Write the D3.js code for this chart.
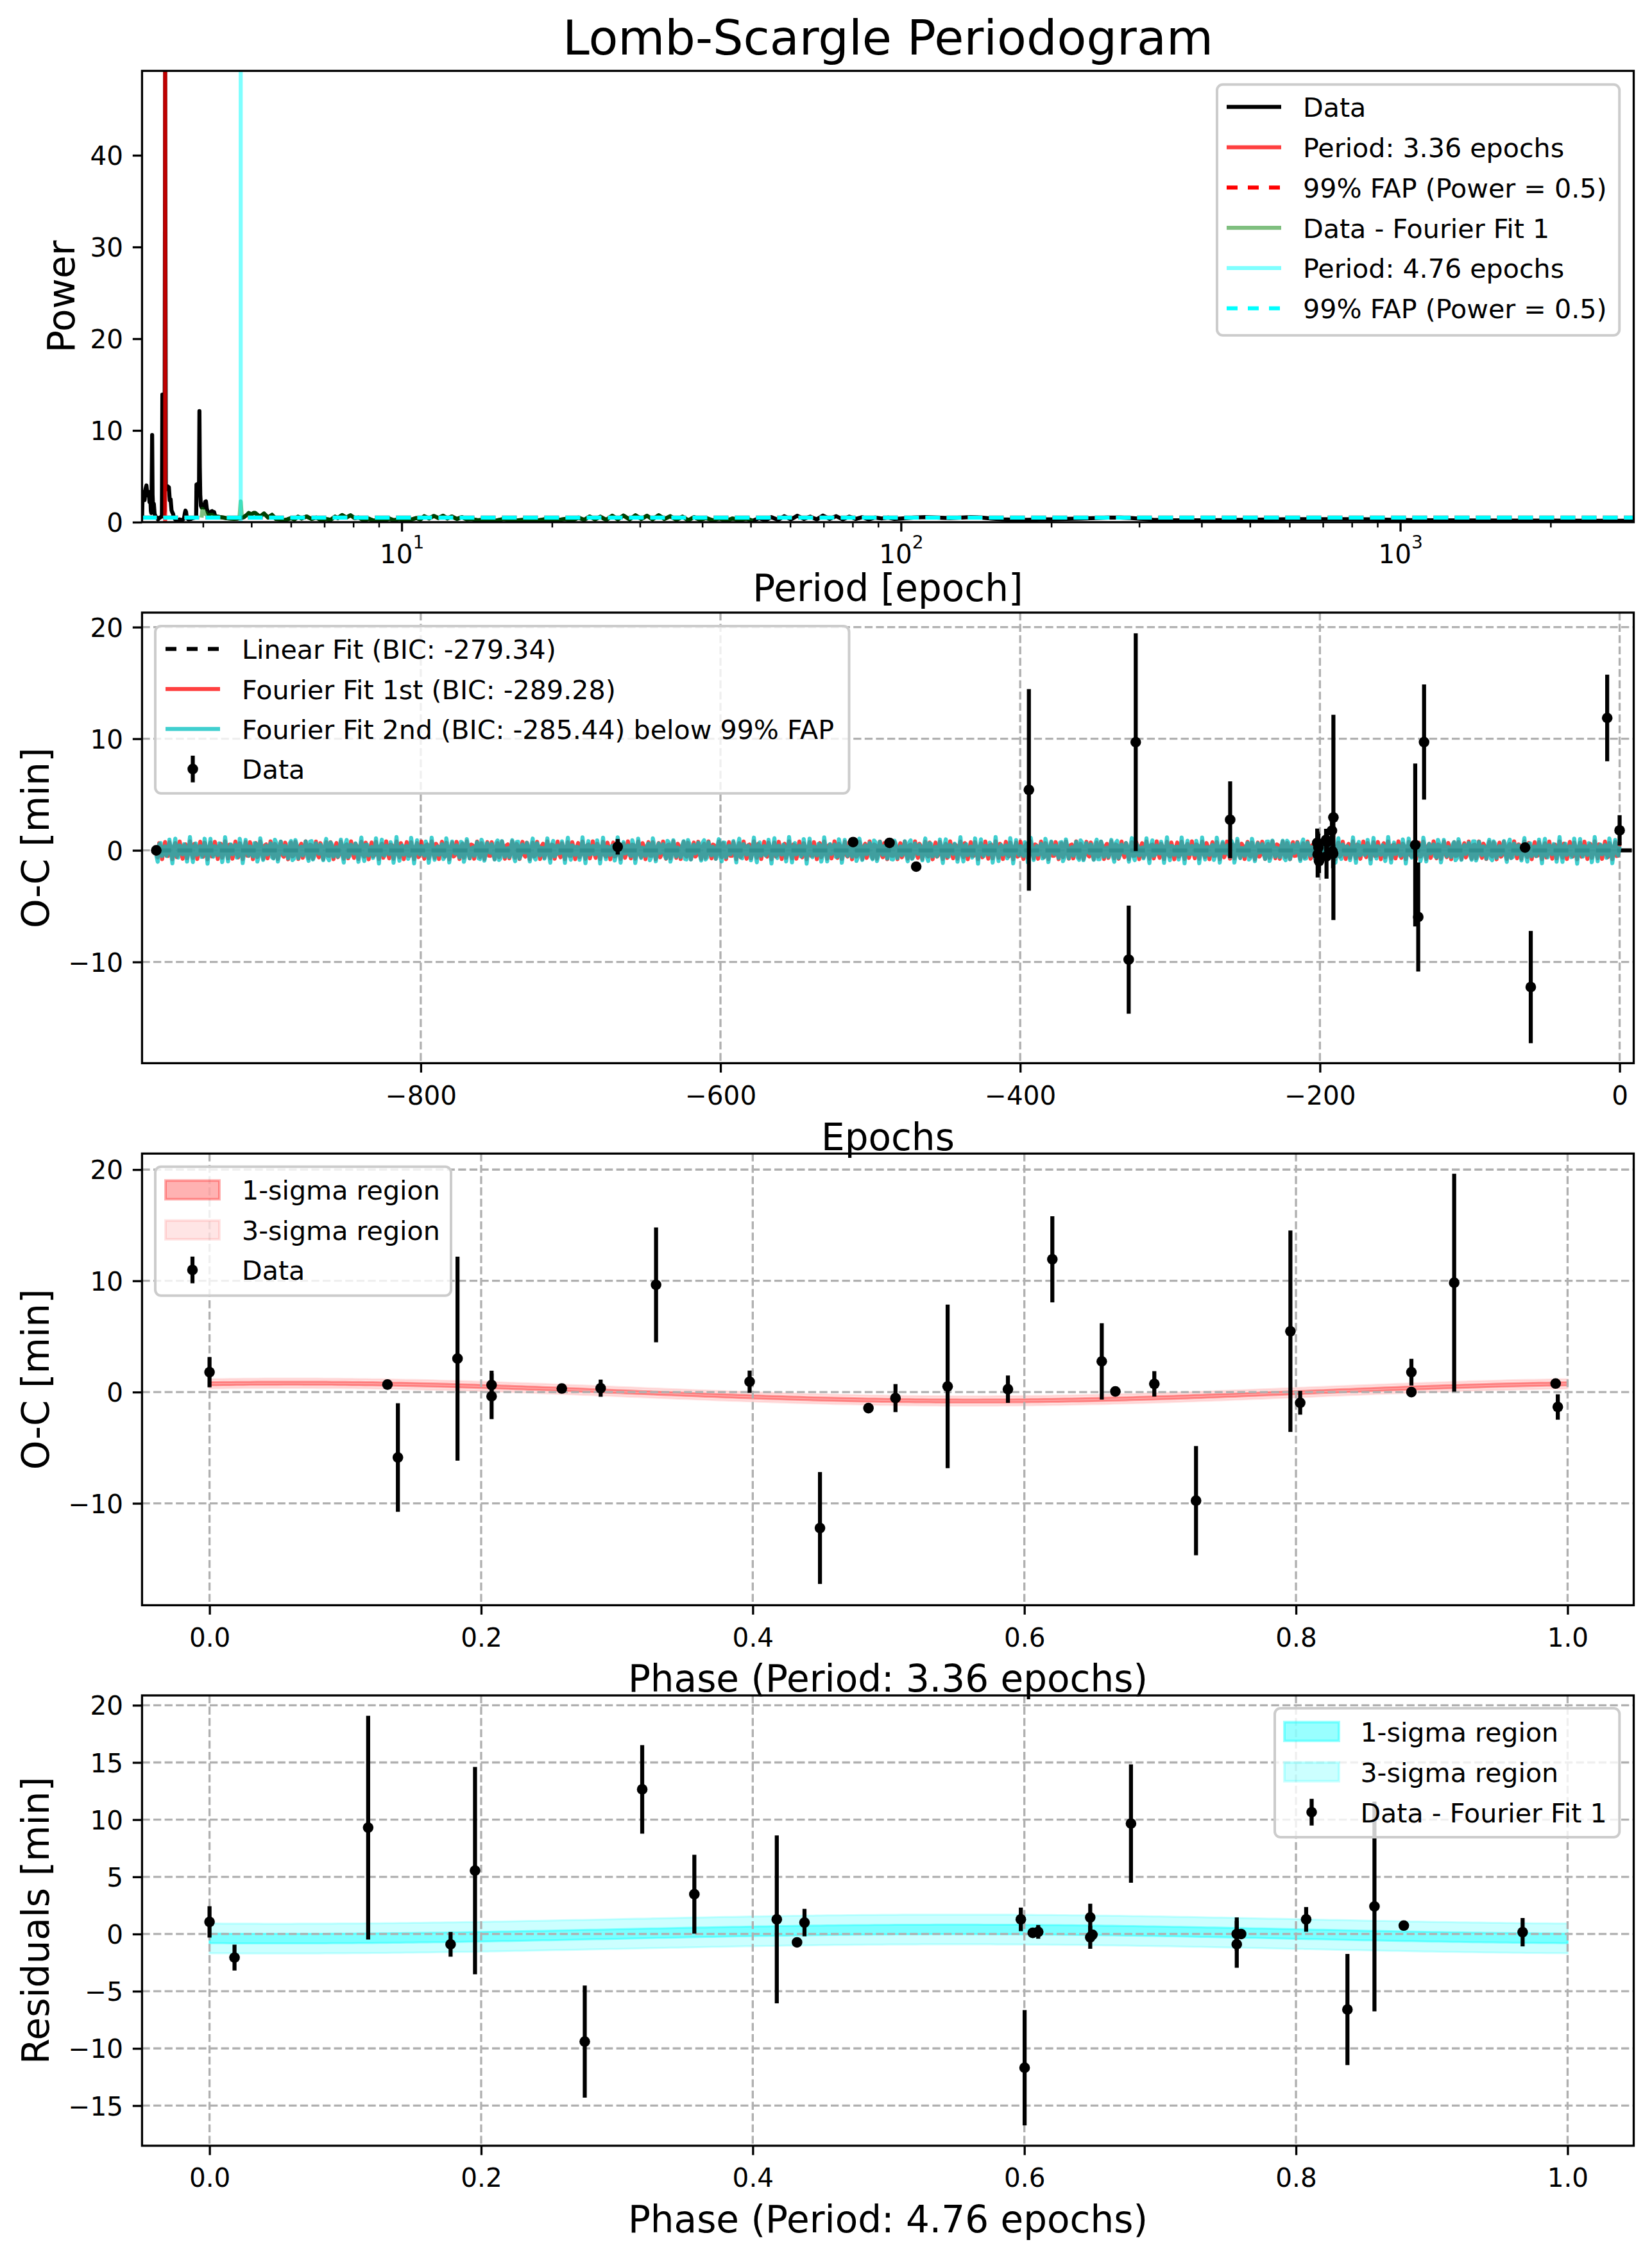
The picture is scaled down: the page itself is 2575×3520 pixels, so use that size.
<!DOCTYPE html>
<html>
<head>
<meta charset="utf-8">
<script src="https://cdn.jsdelivr.net/npm/d3@7"></script>
<style>
  html, body { margin: 0; padding: 0; background: #fff; }
  svg { display: block; }
</style>
</head>
<body>
<svg id="chart" width="2575" height="3520"></svg>
<script>
// ======================= DATA =======================
// Panel 1 – Lomb-Scargle periodogram, [period (epochs), power]
const periodogramLow = [
  [3.02,0.3],[3.028,3.0],[3.036,3.1],[3.045,3.3],[3.055,2.4],[3.068,3.6],[3.082,4.0],[3.095,3.0],
  [3.105,2.9],[3.114,3.3],[3.126,2.2],[3.136,3.1],[3.146,1.2],[3.152,1.0],[3.158,4.5],[3.164,9.5],
  [3.17,3.0],[3.178,1.6],[3.189,2.0],[3.2,0.9],[3.215,0.6],[3.237,0.5],[3.25,0.3],[3.261,0.4],
  [3.28,0.5],[3.3,0.6],[3.31,0.7],[3.317,13.9],[3.324,0.8],[3.335,0.6],[3.35,1.2],[3.36,49.2],
  [3.37,4.0],[3.385,3.6],[3.4,3.9],[3.418,3.8],[3.432,2.4],[3.445,2.5],[3.46,1.3],[3.47,1.1],
  [3.485,0.9],[3.496,0.5],[3.52,0.3],[3.55,0.15],[3.59,0.3],[3.63,0.2],[3.665,0.4],[3.68,1.0],
  [3.69,1.26],[3.7,1.1],[3.711,0.5],[3.74,0.3],[3.78,0.35],[3.82,0.45],[3.86,0.5],[3.876,0.6],
  [3.882,4.1],[3.9,4.15],[3.915,3.3],[3.928,4.5],[3.935,12.1],[3.942,6.0],[3.95,3.0],[3.962,1.8],
  [3.975,1.6],[3.99,1.9],[4.0,1.8],[4.02,1.6],[4.04,2.2],[4.055,2.27],[4.07,1.5],[4.09,1.1],
  [4.11,0.8],[4.13,0.9],[4.15,1.15],[4.17,1.2],[4.19,0.95],[4.21,1.1],[4.23,0.7],[4.27,0.6],
  [4.33,0.55],[4.4,0.5],[4.47,0.42],[4.54,0.4],[4.62,0.35],[4.7,0.4],[4.76,0.45],[4.83,0.55],
  [4.9,0.8],[4.94,1.0],[5.0,0.85],[5.05,1.0],[5.09,1.0]
];
// residual periodogram (Data - Fourier Fit 1), low-period part
const residPeriodogramLow = [
  [3.975,0.5],[3.99,1.45],[4.0,1.3],[4.02,1.2],[4.04,0.9],[4.055,1.0],[4.07,0.8],[4.09,0.75],
  [4.11,0.6],[4.13,0.8],[4.15,0.7],[4.17,0.8],[4.19,0.6],[4.21,0.65],[4.23,0.5],[4.27,0.6],
  [4.33,0.55],[4.4,0.5],[4.47,0.42],[4.54,0.4],[4.62,0.35],[4.7,0.4],[4.735,0.6],[4.75,1.6],
  [4.76,2.27],[4.77,1.6],[4.785,0.6],[4.83,0.55],[4.9,0.8],[4.94,1.0],[5.0,0.85],[5.05,1.0],[5.09,1.0]
];
// part shared by both periodograms (they coincide here)
const periodogramMid = [
  [5.2,0.6],[5.3,0.95],[5.4,0.5],[5.5,0.8],[5.6,0.35],[5.7,0.3],[5.8,0.2],[5.9,0.3],[6.0,0.45],
  [6.1,0.3],[6.2,0.6],[6.3,0.4],[6.45,0.62],[6.6,0.35],[6.75,0.5],[6.9,0.2],[7.05,0.35],[7.2,0.25],
  [7.35,0.6],[7.45,0.45],[7.6,0.78],[7.75,0.5],[7.9,0.75],[8.05,0.45],[8.2,0.5],[8.4,0.2],[8.6,0.38],
  [8.8,0.15],[9.0,0.3],[9.2,0.15],[9.45,0.4],[9.65,0.2],[9.9,0.35],[10.1,0.15],[10.4,0.25],[10.7,0.45],
  [10.9,0.3],[11.1,0.65],[11.35,0.4],[11.6,0.68],[11.85,0.45],[12.1,0.7],[12.35,0.4],[12.6,0.62],
  [12.9,0.35],[13.2,0.55],[13.5,0.3],[13.8,0.35],[14.2,0.2],[14.8,0.3],[15.4,0.15],[16.0,0.35],
  [16.8,0.15],[17.6,0.28],[18.4,0.12],[19.3,0.3],[20.2,0.15],[21.2,0.35],[22.0,0.2],[22.6,0.5],
  [23.2,0.25],[23.8,0.62],[24.4,0.3],[25.0,0.6],[25.7,0.25],[26.4,0.7],[27.1,0.3],[27.8,0.72],
  [28.6,0.3],[29.4,0.75],[30.2,0.35],[31.0,0.7],[31.8,0.3],[32.7,0.75],[33.6,0.35],[34.5,0.65],
  [35.5,0.25],[36.5,0.6],[37.5,0.2],[38.5,0.55],[39.6,0.25],[40.7,0.45],[42.0,0.2],[43.3,0.42],
  [44.6,0.15],[46.0,0.4],[47.5,0.2],[49.0,0.4],[50.5,0.15]
];
// data periodogram, long-period part
const periodogramHigh = [
  [52,0.45],[53.5,0.2],[55,0.55],[56.7,0.25],[58.4,0.65],[60.2,0.3],[62,0.7],[63.9,0.35],[65.8,0.6],
  [67.8,0.3],[69.8,0.72],[72,0.35],[74.2,0.65],[76.5,0.3],[78.8,0.6],[81.2,0.35],[83.6,0.55],
  [86.2,0.3],[88.8,0.5],[91.5,0.4],[94.3,0.5],[97,0.35],[100,0.4],[106,0.5],[112,0.55],[118,0.5],
  [125,0.45],[132,0.5],[138,0.55],[145,0.5],[152,0.4],[160,0.3],[170,0.25],[180,0.25],[190,0.3],
  [200,0.3],[215,0.35],[230,0.4],[245,0.45],[260,0.5],[275,0.5],[290,0.45],[305,0.35],[320,0.25],
  [345,0.2],[370,0.2],[400,0.2],[440,0.22],[490,0.25],[545,0.28],[600,0.32],[660,0.33],[730,0.33],
  [800,0.32],[880,0.3],[960,0.25],[1050,0.22],[1200,0.2],[1400,0.18],[1700,0.17],[2000,0.16],
  [2400,0.15],[2935,0.14]
];
const peakPeriods = [3.36, 4.76];
const fapPowers = [0.5, 0.5];

// Panel 2 – O-C diagram
const epochs = [-976.5,-668.6,-511.5,-487.2,-469.4,-394.2,-327.6,-322.9,-259.9,
  -201.8,-201.5,-201.0,-200.6,-195.9,-195.6,-195.2,-192.0,-191.6,-191.2,-191.0,
  -136.4,-134.4,-130.5,-63.1,-59.3,-8.3,0.0];
const ocValues = [0.0,0.32,0.74,0.67,-1.46,5.42,-9.79,9.69,2.74,
  0.67,-0.38,0.26,-0.96,0.93,-0.54,0.74,1.76,-0.1,-0.3,2.95,
  0.48,-5.97,9.7,0.25,-12.25,11.86,1.79];
const ocErrors = [0.3,0.7,0.3,0.3,0.3,9.03,4.84,9.76,3.44,
  1.28,2.05,1.23,1.07,1.0,2.0,1.14,1.2,0.5,1.3,9.2,
  7.3,4.88,5.16,0.3,5.03,3.88,1.36];
const linearFitCoef = [0.0, 0.0];          // intercept, slope
const fourierFit1 = [0.8, 3.36, 0.06];     // amplitude [min], period [epoch], phase offset
const fourierFit2 = [0.4, 4.76, 0.55];     // second term added to fit 1
const fitEpochRange = [-976.5, 0.0];
const linearEpochRange = [-976.5, 9.4];

// Panel 3 – folded on 3.36 epochs
const phase1 = [0.0,0.131,0.1387,0.1826,0.2077,0.2077,0.2594,0.288,0.3288,0.3977,0.4495,0.4852,
  0.5051,0.5435,0.5879,0.6206,0.657,0.667,0.6957,0.7264,0.7959,0.8031,0.885,0.885,0.9165,0.9912,0.9928];
const phase1OC = [1.79,0.68,-5.88,3.01,0.64,-0.38,0.32,0.35,9.64,0.93,-12.22,-1.44,
  -0.54,0.51,0.26,11.94,2.76,0.06,0.74,-9.76,5.47,-0.96,1.79,0.0,9.83,0.77,-1.34];
const phase1Err = [1.36,0.3,4.88,9.17,1.28,2.05,0.3,0.77,5.16,1.0,5.03,0.3,
  1.26,7.35,1.23,3.87,3.43,0.3,1.14,4.91,9.05,1.07,1.2,0.3,9.8,0.3,1.14];
const sigma1Half = [0.15, 0.42];            // 1σ, 3σ half-widths [min]

// Panel 4 – residuals folded on 4.76 epochs
const phase2 = [0.0,0.0184,0.1168,0.1775,0.1955,0.2763,0.3186,0.357,0.4177,0.4326,0.4381,0.5974,
  0.6002,0.6062,0.6102,0.6485,0.6485,0.6501,0.6785,0.7564,0.7564,0.7596,0.8075,0.8379,0.8578,0.8794,0.9669];
const phase2Resid = [1.06,-2.06,9.3,-0.9,5.54,-9.4,12.65,3.48,1.28,-0.73,1.0,1.28,
  -11.69,0.1,0.19,1.45,-0.29,-0.06,9.66,0.0,-0.9,0.0,1.28,-6.6,2.41,0.74,0.16];
const phase2Err = [1.37,1.13,9.78,1.08,9.06,4.9,3.87,3.45,7.34,0.3,1.2,1.03,
  5.04,0.3,0.6,1.2,1.0,0.3,5.17,1.45,2.05,0.3,1.08,4.86,9.17,0.3,1.24];
const sigma2Half = [0.42, 1.3];

// Tick values
const p1YTicks = [0,10,20,30,40];
const p1XMajor = [10,100,1000];
const p1XMinor = [4,5,6,7,8,9,20,30,40,50,60,70,80,90,200,300,400,500,600,700,800,900,2000];
const p2XTicks = [-800,-600,-400,-200,0];
const p2YTicks = [-10,0,10,20];
const phaseTicks = [0,0.2,0.4,0.6,0.8,1.0];
const p3YTicks = [-10,0,10,20];
const p4YTicks = [-15,-10,-5,0,5,10,15,20];

// ======================= DRAWING =======================
const FONT = '"DejaVu Sans", "Liberation Sans", sans-serif';
const svg = d3.select("#chart");
svg.append("rect").attr("width",2575).attr("height",3520).attr("fill","#fff");
const defs = svg.append("defs");

const L = 221.4, R = 2546.5;
const panels = [
  {top:110.5, bottom:814},
  {top:955, bottom:1657.4},
  {top:1798.3, bottom:2502.4},
  {top:2643, bottom:3345}
];
const LW = 6.25, SPINE = 3.33, TICK = 14.6;

function makePanel(i){
  const p = panels[i];
  defs.append("clipPath").attr("id","clip"+i).append("rect")
    .attr("x",L).attr("y",p.top).attr("width",R-L).attr("height",p.bottom-p.top);
  const g = svg.append("g");
  const plot = g.append("g").attr("clip-path",`url(#clip${i})`);
  return {g, plot, p};
}
function grid(plot, x, y, xt, yt, p){
  const gg = plot.append("g");
  xt.forEach(v => gg.append("line").attr("x1",x(v)).attr("x2",x(v)).attr("y1",p.top).attr("y2",p.bottom)
    .attr("stroke","#b0b0b0").attr("stroke-width",3.33).attr("stroke-dasharray","12.3,5.3"));
  yt.forEach(v => gg.append("line").attr("y1",y(v)).attr("y2",y(v)).attr("x1",L).attr("x2",R)
    .attr("stroke","#b0b0b0").attr("stroke-width",3.33).attr("stroke-dasharray","12.3,5.3"));
}
function styleAxis(a, w){
  a.attr("font-size",null).attr("font-family",null);
  a.select(".domain").remove();
  a.selectAll(".tick line").attr("stroke","#000").attr("stroke-width",w || SPINE);
  a.selectAll(".tick text").attr("fill","#000").style("font-size","40.5px").style("font-family",FONT);
}
function axes(g, x, y, p, xt, xf, yt, yf){
  const ax = g.append("g").attr("transform",`translate(0,${p.bottom})`)
    .call(d3.axisBottom(x).tickValues(xt).tickFormat(xf).tickSize(TICK).tickPadding(21));
  styleAxis(ax);
  const ay = g.append("g").attr("transform",`translate(${L},0)`)
    .call(d3.axisLeft(y).tickValues(yt).tickFormat(yf).tickSize(TICK).tickPadding(14.8));
  styleAxis(ay);
  ay.selectAll(".tick text").attr("dy","0.36em");
  return {ax, ay};
}
function spines(g, p){
  g.append("rect").attr("x",L).attr("y",p.top).attr("width",R-L).attr("height",p.bottom-p.top)
    .attr("fill","none").attr("stroke","#000").attr("stroke-width",SPINE);
}
function labels(g, p, xlabel, xBase, ylabel, yBase){
  g.append("text").attr("x",(L+R)/2).attr("y",xBase).attr("text-anchor","middle")
    .style("font-family",FONT).style("font-size","58px").attr("fill","#000").text(xlabel);
  g.append("text").attr("transform",`translate(${yBase},${(p.top+p.bottom)/2}) rotate(-90)`)
    .attr("text-anchor","middle").style("font-family",FONT).style("font-size","58px").attr("fill","#000").text(ylabel);
}
function errorbars(plot, xs, ys, es, x, y){
  const gg = plot.append("g");
  xs.forEach((xv,i) => {
    gg.append("line").attr("x1",x(xv)).attr("x2",x(xv)).attr("y1",y(ys[i]-es[i])).attr("y2",y(ys[i]+es[i]))
      .attr("stroke","#000").attr("stroke-width",LW);
  });
  xs.forEach((xv,i) => {
    gg.append("circle").attr("cx",x(xv)).attr("cy",y(ys[i])).attr("r",8.3).attr("fill","#000");
  });
}
function legend(g, box, rowY0, rowDy, hx0, hx1, tx, items){
  const lg = g.append("g");
  lg.append("rect").attr("x",box[0]).attr("y",box[1]).attr("width",box[2]-box[0]).attr("height",box[3]-box[1])
    .attr("rx",9).attr("ry",9).attr("fill","#fff").attr("fill-opacity",0.8).attr("stroke","#cccccc").attr("stroke-width",4);
  items.forEach((it,k) => {
    const cy = rowY0 + k*rowDy;
    if (it.type === "line") {
      const ln = lg.append("line").attr("x1",hx0).attr("x2",hx1).attr("y1",cy).attr("y2",cy)
        .attr("stroke",it.color).attr("stroke-opacity",it.opacity ?? 1).attr("stroke-width",LW);
      if (it.dash) ln.attr("stroke-dasharray",it.dash);
    } else if (it.type === "patch") {
      lg.append("rect").attr("x",hx0).attr("y",cy-14.6).attr("width",hx1-hx0).attr("height",29.2)
        .attr("fill",it.color).attr("fill-opacity",it.opacity).attr("stroke",it.color).attr("stroke-opacity",it.opacity).attr("stroke-width",4);
    } else if (it.type === "err") {
      const cx = (hx0+hx1)/2;
      lg.append("line").attr("x1",cx).attr("x2",cx).attr("y1",cy-20.8).attr("y2",cy+20.8).attr("stroke","#000").attr("stroke-width",LW);
      lg.append("circle").attr("cx",cx).attr("cy",cy).attr("r",8.3).attr("fill","#000");
    }
    lg.append("text").attr("x",tx).attr("y",cy+15.5).style("font-family",FONT).style("font-size","41.2px")
      .attr("fill","#000").text(it.label);
  });
}

// ---------- Title ----------
svg.append("text").attr("x",(L+R)/2).attr("y",85).attr("text-anchor","middle")
  .style("font-family",FONT).style("font-size","75px").attr("fill","#000").text("Lomb-Scargle Periodogram");

// ---------- Panel 1 ----------
{
  const {g, plot, p} = makePanel(0);
  const x = d3.scaleLog().domain([3.02, 2935]).range([L, R]);
  const y = d3.scaleLinear().domain([0, 49.2]).range([p.bottom, p.top]);
  const line = d3.line().x(d => x(d[0])).y(d => y(d[1]));
  const dataPg = periodogramLow.concat(periodogramMid, periodogramHigh);
  const residPg = residPeriodogramLow.concat(periodogramMid);
  plot.append("path").attr("d",line(dataPg)).attr("fill","none").attr("stroke","#000")
    .attr("stroke-width",LW).attr("stroke-linejoin","round");
  plot.append("line").attr("x1",x(peakPeriods[0])).attr("x2",x(peakPeriods[0])).attr("y1",p.top).attr("y2",p.bottom)
    .attr("stroke","#ff0000").attr("stroke-opacity",0.75).attr("stroke-width",LW);
  plot.append("line").attr("x1",L).attr("x2",R).attr("y1",y(fapPowers[0])).attr("y2",y(fapPowers[0]))
    .attr("stroke","#ff0000").attr("stroke-width",LW).attr("stroke-dasharray","23,10");
  plot.append("path").attr("d",line(residPg)).attr("fill","none").attr("stroke","#008000").attr("stroke-opacity",0.5)
    .attr("stroke-width",LW).attr("stroke-linejoin","round");
  plot.append("line").attr("x1",x(peakPeriods[1])).attr("x2",x(peakPeriods[1])).attr("y1",p.top).attr("y2",p.bottom)
    .attr("stroke","#00ffff").attr("stroke-opacity",0.5).attr("stroke-width",LW);
  plot.append("line").attr("x1",L).attr("x2",R).attr("y1",y(fapPowers[1])).attr("y2",y(fapPowers[1]))
    .attr("stroke","#00ffff").attr("stroke-width",LW).attr("stroke-dasharray","23,10");

  const ax = g.append("g").attr("transform",`translate(0,${p.bottom})`)
    .call(d3.axisBottom(x).tickValues(p1XMajor).tickFormat(() => "").tickSize(TICK).tickPadding(21));
  styleAxis(ax);
  ax.selectAll(".tick text").each(function(d){
    const t = d3.select(this);
    t.append("tspan").text("10");
    t.append("tspan").attr("dy",-23).style("font-size","28px").text(Math.round(Math.log10(d)));
  });
  const axm = g.append("g").attr("transform",`translate(0,${p.bottom})`)
    .call(d3.axisBottom(x).tickValues(p1XMinor).tickFormat(() => "").tickSize(8.3));
  styleAxis(axm, 2.5);
  const ay = g.append("g").attr("transform",`translate(${L},0)`)
    .call(d3.axisLeft(y).tickValues(p1YTicks).tickFormat(d3.format("d")).tickSize(TICK).tickPadding(14.8));
  styleAxis(ay);
  ay.selectAll(".tick text").attr("dy","0.36em");
  spines(g, p);
  labels(g, p, "Period [epoch]", 937, "Power", 116);
  legend(g, [1897, 131.7, 2524.2, 522.7], 166.7, 62.8, 1912, 1997, 2031, [
    {type:"line", color:"#000", label:"Data"},
    {type:"line", color:"#ff0000", opacity:0.75, label:"Period: 3.36 epochs"},
    {type:"line", color:"#ff0000", dash:"17,16", label:"99% FAP (Power = 0.5)"},
    {type:"line", color:"#008000", opacity:0.5, label:"Data - Fourier Fit 1"},
    {type:"line", color:"#00ffff", opacity:0.5, label:"Period: 4.76 epochs"},
    {type:"line", color:"#00ffff", dash:"17,16", label:"99% FAP (Power = 0.5)"}
  ]);
}

// Fourier model built from the fit coefficients
const fit1 = t => fourierFit1[0]*Math.cos(2*Math.PI*(t/fourierFit1[1] - fourierFit1[2]));
const fit2term = t => fourierFit2[0]*Math.cos(2*Math.PI*(t/fourierFit2[1] - fourierFit2[2]));

// ---------- Panel 2 ----------
{
  const {g, plot, p} = makePanel(1);
  const x = d3.scaleLinear().domain([-986, 9.4]).range([L, R]);
  const y = d3.scaleLinear().domain([-19.07, 21.3]).range([p.bottom, p.top]);
  grid(plot, x, y, p2XTicks, p2YTicks, p);
  const nFit = 1000;
  const tGrid = d3.range(nFit).map(i => fitEpochRange[0] + i*(fitEpochRange[1]-fitEpochRange[0])/(nFit-1));
  const line = d3.line().x(d => x(d[0])).y(d => y(d[1]));
  plot.append("path").attr("d",line(linearEpochRange.map(t => [t, linearFitCoef[0] + linearFitCoef[1]*t])))
    .attr("fill","none").attr("stroke","#000").attr("stroke-width",LW).attr("stroke-dasharray","23,10");
  plot.append("path").attr("d",line(tGrid.map(t => [t, fit1(t)]))).attr("fill","none")
    .attr("stroke","#ff0000").attr("stroke-opacity",0.75).attr("stroke-width",LW).attr("stroke-linejoin","round");
  plot.append("path").attr("d",line(tGrid.map(t => [t, fit1(t) + fit2term(t)]))).attr("fill","none")
    .attr("stroke","#00bfbf").attr("stroke-opacity",0.75).attr("stroke-width",LW).attr("stroke-linejoin","round");
  errorbars(plot, epochs, ocValues, ocErrors, x, y);
  axes(g, x, y, p, p2XTicks, d3.format("d"), p2YTicks, d3.format("d"));
  spines(g, p);
  labels(g, p, "Epochs", 1793, "O-C [min]", 76);
  legend(g, [242, 976, 1323.5, 1236.8], 1011.6, 62.4, 258, 343, 377, [
    {type:"line", color:"#000", dash:"17,16", label:"Linear Fit (BIC: -279.34)"},
    {type:"line", color:"#ff0000", opacity:0.75, label:"Fourier Fit 1st (BIC: -289.28)"},
    {type:"line", color:"#00bfbf", opacity:0.75, label:"Fourier Fit 2nd (BIC: -285.44) below 99% FAP"},
    {type:"err", label:"Data"}
  ]);
}

// ---------- Panel 3 ----------
{
  const {g, plot, p} = makePanel(2);
  const x = d3.scaleLinear().domain([-0.0497, 1.0487]).range([L, R]);
  const y = d3.scaleLinear().domain([-19.16, 21.44]).range([p.bottom, p.top]);
  const ph = d3.range(201).map(i => i/200);
  const model = f => fit1(f*fourierFit1[1]);
  [[sigma1Half[1], 0.1], [sigma1Half[0], 0.3]].forEach(([hw, op]) => {
    const area = d3.area().x(f => x(f)).y0(f => y(model(f) - hw)).y1(f => y(model(f) + hw));
    plot.append("path").attr("d",area(ph)).attr("fill","#ff0000").attr("fill-opacity",op)
      .attr("stroke","#ff0000").attr("stroke-opacity",op).attr("stroke-width",3);
  });
  grid(plot, x, y, phaseTicks, p3YTicks, p);
  errorbars(plot, phase1, phase1OC, phase1Err, x, y);
  axes(g, x, y, p, phaseTicks, d3.format(".1f"), p3YTicks, d3.format("d"));
  spines(g, p);
  labels(g, p, "Phase (Period: 3.36 epochs)", 2637, "O-C [min]", 76);
  legend(g, [242, 1818.8, 703, 2019.7], 1854.9, 62.4, 258, 342, 377, [
    {type:"patch", color:"#ff0000", opacity:0.3, label:"1-sigma region"},
    {type:"patch", color:"#ff0000", opacity:0.1, label:"3-sigma region"},
    {type:"err", label:"Data"}
  ]);
}

// ---------- Panel 4 ----------
{
  const {g, plot, p} = makePanel(3);
  const x = d3.scaleLinear().domain([-0.0497, 1.0487]).range([L, R]);
  const y = d3.scaleLinear().domain([-18.51, 20.86]).range([p.bottom, p.top]);
  const ph = d3.range(201).map(i => i/200);
  const model = f => fit2term(f*fourierFit2[1]);
  [[sigma2Half[1], 0.2], [sigma2Half[0], 0.4]].forEach(([hw, op]) => {
    const area = d3.area().x(f => x(f)).y0(f => y(model(f) - hw)).y1(f => y(model(f) + hw));
    plot.append("path").attr("d",area(ph)).attr("fill","#00ffff").attr("fill-opacity",op)
      .attr("stroke","#00ffff").attr("stroke-opacity",op).attr("stroke-width",3);
  });
  grid(plot, x, y, phaseTicks, p4YTicks, p);
  errorbars(plot, phase2, phase2Resid, phase2Err, x, y);
  axes(g, x, y, p, phaseTicks, d3.format(".1f"), p4YTicks, d3.format("d"));
  spines(g, p);
  labels(g, p, "Phase (Period: 4.76 epochs)", 3480, "Residuals [min]", 76);
  legend(g, [1987, 2663, 2524.3, 2864], 2699.2, 62.9, 2002, 2087, 2120.4, [
    {type:"patch", color:"#00ffff", opacity:0.4, label:"1-sigma region"},
    {type:"patch", color:"#00ffff", opacity:0.2, label:"3-sigma region"},
    {type:"err", label:"Data - Fourier Fit 1"}
  ]);
}
</script>
</body>
</html>
